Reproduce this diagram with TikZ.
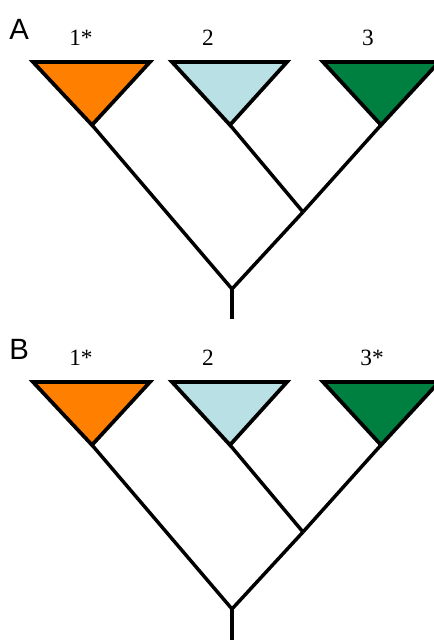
\documentclass[tikz,border=0pt]{standalone}
\usepackage{fontspec}
\setmainfont{Liberation Serif}
\newfontfamily\panelfont{Liberation Sans}
\definecolor{cOrange}{RGB}{255,128,0}
\definecolor{cLight}{RGB}{185,224,228}
\definecolor{cGreen}{RGB}{0,128,64}
\begin{document}
\begin{tikzpicture}[x=0.75pt,y=-0.75pt,
  tri/.style={draw=black,line width=2.8pt,line join=miter},
  branch/.style={draw=black,line width=2.6pt},
  lbl/.style={anchor=base,inner sep=0pt,font=\fontsize{17.5}{19}\selectfont},
  panellbl/.style={anchor=base west,inner sep=0pt,font=\panelfont\fontsize{22}{25}\selectfont}]
\useasboundingbox (0,0) rectangle (434,640);
\clip (0,0) rectangle (434,640);
\foreach \p/\o/\la/\lc/\cx/\stem in {A/0/1*/3/368/319,B/320/1*/3*/372/640}{
  \node[panellbl] (P\p) at (9,39+\o) {\p};
  \node[lbl] (L1\p) at (81,45+\o) {\la};
  \node[lbl] (L2\p) at (208,45+\o) {2};
  \node[lbl] (L3\p) at (\cx,45+\o) {\lc};
  \coordinate (a1\p) at (33,62+\o);
  \coordinate (b1\p) at (150,62+\o);
  \coordinate (c1\p) at (92,125+\o);
  \coordinate (a2\p) at (172,62+\o);
  \coordinate (b2\p) at (287,62+\o);
  \coordinate (c2\p) at (230,125+\o);
  \coordinate (a3\p) at (323,62+\o);
  \coordinate (b3\p) at (439,62+\o);
  \coordinate (c3\p) at (381,125+\o);
  \coordinate (n23\p) at (303,212+\o);
  \coordinate (root\p) at (232,289+\o);
  \coordinate (end\p) at (232,\stem);
  \draw[branch] (c1\p) -- (root\p);
  \draw[branch] (c2\p) -- (n23\p);
  \draw[branch] (c3\p) -- (n23\p);
  \draw[branch] (n23\p) -- (root\p);
  \draw[branch] (root\p) -- (end\p);
  \filldraw[tri,fill=cOrange] (a1\p) -- (b1\p) -- (c1\p) -- cycle;
  \filldraw[tri,fill=cLight] (a2\p) -- (b2\p) -- (c2\p) -- cycle;
  \filldraw[tri,fill=cGreen] (a3\p) -- (b3\p) -- (c3\p) -- cycle;
}
\end{tikzpicture}
\end{document}
